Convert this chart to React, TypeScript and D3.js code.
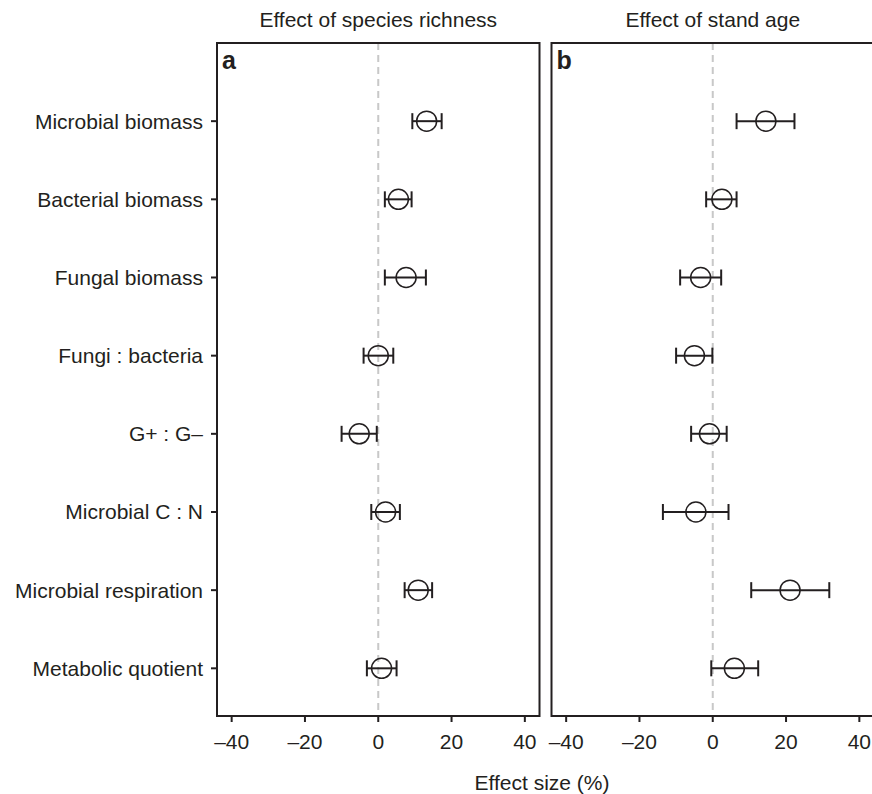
import React from "react";
import * as d3 from "d3";

const categories = [
  "Microbial biomass",
  "Bacterial biomass",
  "Fungal biomass",
  "Fungi : bacteria",
  "G+ : G\u2013",
  "Microbial C : N",
  "Microbial respiration",
  "Metabolic quotient",
];

// effect of species richness (panel a)
const richMean = [13.2, 5.5, 7.6, 0.0, -5.2, 2.0, 10.9, 0.9];
const richLow = [9.3, 1.8, 1.8, -4.0, -10.0, -1.9, 7.2, -3.1];
const richHigh = [17.3, 9.1, 13.0, 4.1, -0.4, 5.9, 14.7, 5.0];

// effect of stand age (panel b)
const ageMean = [14.5, 2.5, -3.3, -5.0, -0.9, -4.6, 21.1, 5.9];
const ageLow = [6.5, -1.8, -8.9, -10.0, -5.9, -13.6, 10.5, -0.4];
const ageHigh = [22.3, 6.5, 2.3, -0.1, 3.8, 4.3, 31.8, 12.4];

const xTicks = [-40, -20, 0, 20, 40];

const W = 872;
const H = 794;
const top = 43;
const bottom = 716;
const font = "'Liberation Sans', Arial, Helvetica, sans-serif";
const ink = "#231f20";
const fs = 21;

const fmt = (v: number) => (v < 0 ? "\u2013" + Math.abs(v) : String(v));

function Panel({ x0, x1, title, tag, mean, low, high, y }: any) {
  const x = d3.scaleLinear().domain([-44, 44]).range([x0, x1]);
  return (
    <g>
      <text x={x(0)} y={27} textAnchor="middle" fontSize={fs} fill={ink} fontFamily={font}>
        {title}
      </text>
      <line x1={x(0)} x2={x(0)} y1={top} y2={bottom} stroke="#c8c8c8" strokeWidth={2} strokeDasharray="7,5" />
      {categories.map((c, i) => (
        <g key={c}>
          <line x1={x(low[i])} x2={x(high[i])} y1={y(i)} y2={y(i)} stroke={ink} strokeWidth={2} />
          <line x1={x(low[i])} x2={x(low[i])} y1={y(i) - 8} y2={y(i) + 8} stroke={ink} strokeWidth={2} />
          <line x1={x(high[i])} x2={x(high[i])} y1={y(i) - 8} y2={y(i) + 8} stroke={ink} strokeWidth={2} />
          <circle cx={x(mean[i])} cy={y(i)} r={10} fill="none" stroke={ink} strokeWidth={1.5} />
        </g>
      ))}
      <rect x={x0} y={top} width={x1 - x0} height={bottom - top} fill="none" stroke={ink} strokeWidth={2} />
      <text x={x0 + 5} y={69} fontSize={25} fontWeight="bold" fill={ink} fontFamily={font}>
        {tag}
      </text>
      {xTicks.map((t) => (
        <g key={t}>
          <line x1={x(t)} x2={x(t)} y1={bottom} y2={bottom + 6} stroke={ink} strokeWidth={2} />
          <text x={x(t)} y={749} textAnchor="middle" fontSize={fs} fill={ink} fontFamily={font}>
            {fmt(t)}
          </text>
        </g>
      ))}
    </g>
  );
}

export default function App() {
  const y = d3.scaleLinear().domain([-1, 7.61]).range([top, bottom]);
  return (
    <svg width={W} height={H} style={{ position: "absolute", left: 0, top: 0, background: "#fff" }}>
      <rect width={W} height={H} fill="#fff" />
      {categories.map((c, i) => (
        <g key={c}>
          <line x1={211} x2={217} y1={y(i)} y2={y(i)} stroke={ink} strokeWidth={2} />
          <text x={203} y={y(i) + 7.5} textAnchor="end" fontSize={fs} fill={ink} fontFamily={font}>
            {c}
          </text>
        </g>
      ))}
      <Panel x0={217} x1={539.5} title="Effect of species richness" tag="a" mean={richMean} low={richLow} high={richHigh} y={y} />
      <Panel x0={551.5} x1={874} title="Effect of stand age" tag="b" mean={ageMean} low={ageLow} high={ageHigh} y={y} />
      <text x={542} y={790} textAnchor="middle" fontSize={fs} fill={ink} fontFamily={font}>
        Effect size (%)
      </text>
    </svg>
  );
}
